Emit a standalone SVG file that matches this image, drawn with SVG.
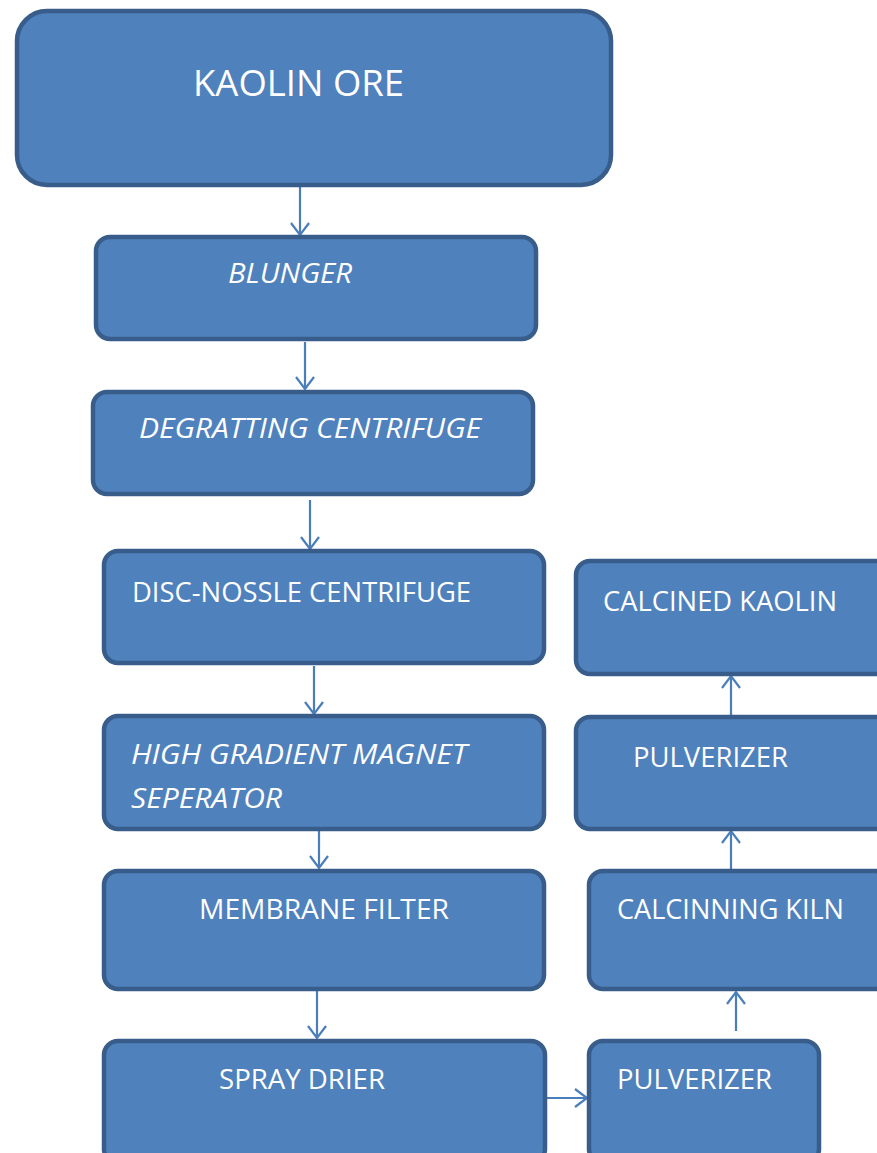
<svg xmlns="http://www.w3.org/2000/svg" width="877" height="1153" viewBox="0 0 877 1153">
<defs>
<style>
.box{fill:#4F81BD;stroke:#385D8A;stroke-width:4.5}
.t{fill:#ffffff;font-family:"Open Sans","Liberation Sans",sans-serif;font-size:27px}
.big{font-size:37px}
.i{font-style:italic}
.c{fill:none;stroke:#4A7EBB;stroke-width:2.2}
</style>
<marker id="ah" viewBox="0 0 20 20" refX="18" refY="10" markerWidth="20" markerHeight="20" markerUnits="userSpaceOnUse" orient="auto">
<path d="M6,1 L18,10 L6,19" fill="none" stroke="#4A7EBB" stroke-width="2.2"/>
</marker>
</defs>
<rect width="877" height="1153" fill="#ffffff"/>
<g id="connectors">
<line class="c" x1="300" y1="160" x2="300" y2="235" marker-end="url(#ah)"/>
<line class="c" x1="305" y1="342" x2="305" y2="389" marker-end="url(#ah)"/>
<line class="c" x1="310" y1="500" x2="310" y2="549" marker-end="url(#ah)"/>
<line class="c" x1="314" y1="666" x2="314" y2="714" marker-end="url(#ah)"/>
<line class="c" x1="319" y1="820" x2="319" y2="868" marker-end="url(#ah)"/>
<line class="c" x1="317" y1="991" x2="317" y2="1038" marker-end="url(#ah)"/>
<line class="c" x1="546" y1="1098" x2="587" y2="1098" marker-end="url(#ah)"/>
<line class="c" x1="736" y1="1031" x2="736" y2="992" marker-end="url(#ah)"/>
<line class="c" x1="731" y1="870" x2="731" y2="831" marker-end="url(#ah)"/>
<line class="c" x1="731" y1="715" x2="731" y2="676" marker-end="url(#ah)"/>
</g>
<g id="kaolin-ore">
<rect class="box" x="17" y="11" width="594" height="174" rx="30"/>
<text class="t big" x="193" y="96" textLength="211" lengthAdjust="spacingAndGlyphs">KAOLIN ORE</text>
</g>
<g id="blunger">
<rect class="box" x="96" y="237" width="440" height="102" rx="14"/>
<text class="t i" x="228" y="283" textLength="124" lengthAdjust="spacingAndGlyphs">BLUNGER</text>
</g>
<g id="degratting">
<rect class="box" x="93" y="392" width="440" height="102" rx="14"/>
<text class="t i" x="139" y="438" textLength="342" lengthAdjust="spacingAndGlyphs">DEGRATTING CENTRIFUGE</text>
</g>
<g id="disc-nossle">
<rect class="box" x="104" y="551" width="440" height="112" rx="14"/>
<text class="t" x="132" y="602" textLength="339" lengthAdjust="spacingAndGlyphs">DISC-NOSSLE CENTRIFUGE</text>
</g>
<g id="magnet">
<rect class="box" x="104" y="716" width="440" height="113" rx="14"/>
<text class="t i" x="131" y="764" textLength="336" lengthAdjust="spacingAndGlyphs">HIGH GRADIENT MAGNET</text>
<text class="t i" x="131" y="808" textLength="151" lengthAdjust="spacingAndGlyphs">SEPERATOR</text>
</g>
<g id="membrane">
<rect class="box" x="104" y="871" width="440" height="118" rx="14"/>
<text class="t" x="199" y="919" textLength="250" lengthAdjust="spacingAndGlyphs">MEMBRANE FILTER</text>
</g>
<g id="spray-drier">
<rect class="box" x="104" y="1041" width="441" height="122" rx="14"/>
<text class="t" x="219" y="1089" textLength="166" lengthAdjust="spacingAndGlyphs">SPRAY DRIER</text>
</g>
<g id="pulverizer-1">
<rect class="box" x="589" y="1041" width="230" height="122" rx="14"/>
<text class="t" x="617" y="1089" textLength="155" lengthAdjust="spacingAndGlyphs">PULVERIZER</text>
</g>
<g id="calcinning-kiln">
<rect class="box" x="589" y="871" width="300" height="118" rx="14"/>
<text class="t" x="617" y="919" textLength="227" lengthAdjust="spacingAndGlyphs">CALCINNING KILN</text>
</g>
<g id="pulverizer-2">
<rect class="box" x="576" y="717" width="320" height="112" rx="14"/>
<text class="t" x="633" y="767" textLength="155" lengthAdjust="spacingAndGlyphs">PULVERIZER</text>
</g>
<g id="calcined-kaolin">
<rect class="box" x="576" y="561" width="320" height="113" rx="14"/>
<text class="t" x="603" y="611" textLength="234" lengthAdjust="spacingAndGlyphs">CALCINED KAOLIN</text>
</g>
</svg>
